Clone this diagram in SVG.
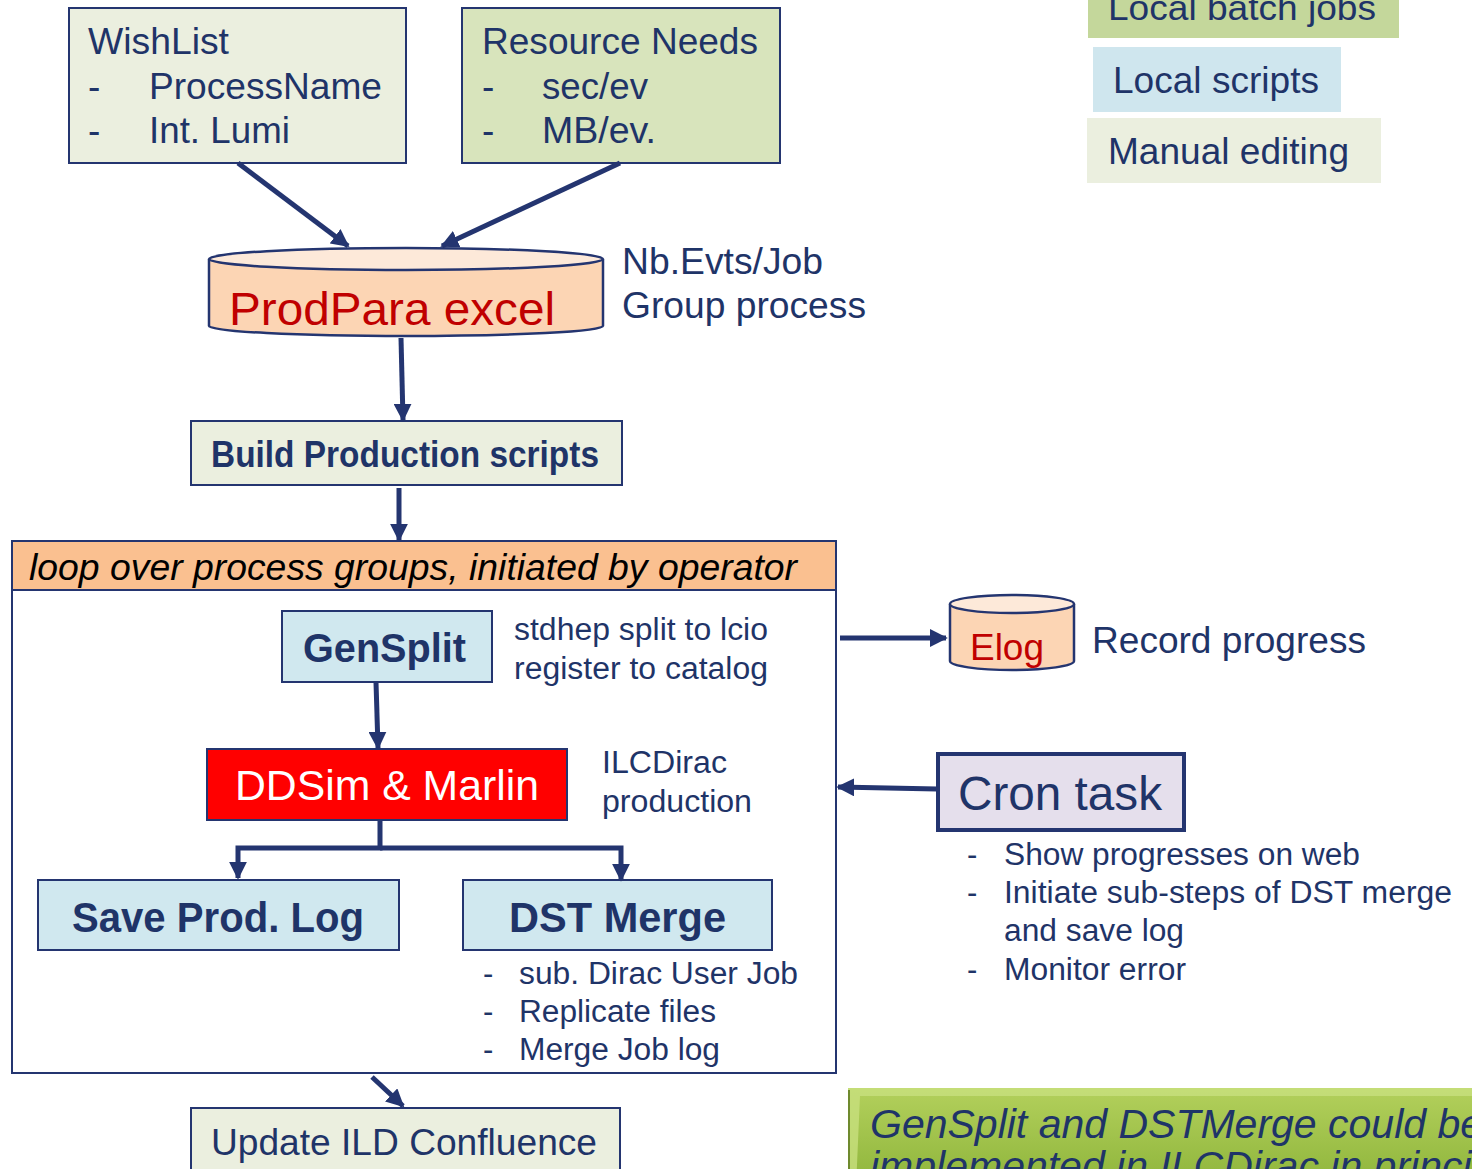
<svg xmlns="http://www.w3.org/2000/svg" width="1472" height="1169" viewBox="0 0 1472 1169">
<style>
.t{font-family:"Liberation Sans",Arial,sans-serif;fill:#1f3468}
.box{stroke:#243570;stroke-width:2}
.conn{stroke:#243570;stroke-width:5;fill:none}
text{font-family:"Liberation Sans",Arial,sans-serif}
</style>
<defs>
<marker id="ah" viewBox="0 0 10 10" refX="9" refY="5" markerWidth="18" markerHeight="18" markerUnits="userSpaceOnUse" orient="auto">
<path d="M0,0 L10,5 L0,10 z" fill="#243570"/>
</marker>
<linearGradient id="grn" x1="0" y1="0" x2="0" y2="1">
<stop offset="0" stop-color="#b3d05c"/>
<stop offset="1" stop-color="#8db43a"/>
</linearGradient>
</defs>
<rect width="1472" height="1169" fill="#ffffff"/>

<g id="legend-batch"><rect x="1088" y="-2" width="311" height="40" fill="#c4d79b"/><text class="t" x="1108" y="20" font-size="35" textLength="268" lengthAdjust="spacingAndGlyphs">Local batch jobs</text></g>
<g id="legend-scripts"><rect x="1093" y="47" width="248" height="65" fill="#cfe6ee"/><text class="t" x="1113" y="93" font-size="36" textLength="206" lengthAdjust="spacingAndGlyphs">Local scripts</text></g>
<g id="legend-manual"><rect x="1087" y="118" width="294" height="65" fill="#ebefdf"/><text class="t" x="1108" y="164" font-size="36" textLength="241" lengthAdjust="spacingAndGlyphs">Manual editing</text></g>

<g id="wishlist">
<rect class="box" x="69" y="8" width="337" height="155" fill="#ebefdf"/>
<text class="t" x="88" y="54" font-size="37" textLength="141" lengthAdjust="spacingAndGlyphs">WishList</text>
<text class="t" x="88" y="99" font-size="37">-</text><text class="t" x="149" y="99" font-size="37" textLength="233" lengthAdjust="spacingAndGlyphs">ProcessName</text>
<text class="t" x="88" y="143" font-size="37">-</text><text class="t" x="149" y="143" font-size="37" textLength="141" lengthAdjust="spacingAndGlyphs">Int. Lumi</text>
</g>
<g id="resource">
<rect class="box" x="462" y="8" width="318" height="155" fill="#d8e4bc"/>
<text class="t" x="482" y="54" font-size="37" textLength="276" lengthAdjust="spacingAndGlyphs">Resource Needs</text>
<text class="t" x="482" y="99" font-size="37">-</text><text class="t" x="542" y="99" font-size="37" textLength="106" lengthAdjust="spacingAndGlyphs">sec/ev</text>
<text class="t" x="482" y="143" font-size="37">-</text><text class="t" x="542" y="143" font-size="37" textLength="114" lengthAdjust="spacingAndGlyphs">MB/ev.</text>
</g>

<g id="prodpara">
<path d="M209,259 V326 A197,10 0 0 0 603,326 V259" fill="#fcd5b4" stroke="#243570" stroke-width="2.5"/>
<ellipse cx="406" cy="259" rx="197" ry="11" fill="#fde9d9" stroke="#243570" stroke-width="2.5"/>
<text x="229" y="325" font-size="47" fill="#c00000" textLength="326" lengthAdjust="spacingAndGlyphs">ProdPara excel</text>
<text class="t" x="622" y="274" font-size="36" textLength="201" lengthAdjust="spacingAndGlyphs">Nb.Evts/Job</text>
<text class="t" x="622" y="318" font-size="36" textLength="244" lengthAdjust="spacingAndGlyphs">Group process</text>
</g>

<g id="build">
<rect class="box" x="191" y="421" width="431" height="64" fill="#ebefdf"/>
<text class="t" x="211" y="467" font-size="36" font-weight="bold" textLength="388" lengthAdjust="spacingAndGlyphs">Build Production scripts</text>
</g>

<g id="loop">
<rect class="box" x="12" y="590" width="824" height="483" fill="#ffffff"/>
<rect class="box" x="12" y="541" width="824" height="49" fill="#fac090"/>
<text x="29" y="580" font-size="37" font-style="italic" fill="#000000" textLength="768" lengthAdjust="spacingAndGlyphs">loop over process groups, initiated by operator</text>
</g>

<g id="gensplit">
<rect class="box" x="282" y="611" width="210" height="71" fill="#d0e8ef"/>
<text class="t" x="303" y="662" font-size="41" font-weight="bold" textLength="163" lengthAdjust="spacingAndGlyphs">GenSplit</text>
<text class="t" x="514" y="640" font-size="31" textLength="254" lengthAdjust="spacingAndGlyphs">stdhep split to lcio</text>
<text class="t" x="514" y="679" font-size="31" textLength="254" lengthAdjust="spacingAndGlyphs">register to catalog</text>
</g>

<g id="ddsim">
<rect class="box" x="207" y="749" width="360" height="71" fill="#ff0000"/>
<text x="235" y="800" font-size="42" fill="#ffffff" textLength="304" lengthAdjust="spacingAndGlyphs">DDSim &amp; Marlin</text>
<text class="t" x="602" y="773" font-size="31" textLength="125" lengthAdjust="spacingAndGlyphs">ILCDirac</text>
<text class="t" x="602" y="812" font-size="31" textLength="150" lengthAdjust="spacingAndGlyphs">production</text>
</g>

<g id="saveprod">
<rect class="box" x="38" y="880" width="361" height="70" fill="#d0e8ef"/>
<text class="t" x="72" y="932" font-size="42" font-weight="bold" textLength="292" lengthAdjust="spacingAndGlyphs">Save Prod. Log</text>
</g>

<g id="dstmerge">
<rect class="box" x="463" y="880" width="309" height="70" fill="#d0e8ef"/>
<text class="t" x="509" y="932" font-size="42" font-weight="bold" textLength="217" lengthAdjust="spacingAndGlyphs">DST Merge</text>
<text class="t" x="483" y="984" font-size="31">-</text><text class="t" x="519" y="984" font-size="31" textLength="279" lengthAdjust="spacingAndGlyphs">sub. Dirac User Job</text>
<text class="t" x="483" y="1022" font-size="31">-</text><text class="t" x="519" y="1022" font-size="31" textLength="197" lengthAdjust="spacingAndGlyphs">Replicate files</text>
<text class="t" x="483" y="1060" font-size="31">-</text><text class="t" x="519" y="1060" font-size="31" textLength="201" lengthAdjust="spacingAndGlyphs">Merge Job log</text>
</g>

<g id="elog">
<path d="M950,604 V661 A62,9 0 0 0 1074,661 V604" fill="#fcd5b4" stroke="#243570" stroke-width="2.5"/>
<ellipse cx="1012" cy="604" rx="62" ry="9" fill="#fde9d9" stroke="#243570" stroke-width="2.5"/>
<text x="970" y="660" font-size="37" fill="#c00000" textLength="74" lengthAdjust="spacingAndGlyphs">Elog</text>
<text class="t" x="1092" y="653" font-size="37" textLength="274" lengthAdjust="spacingAndGlyphs">Record progress</text>
</g>

<g id="cron">
<rect x="938" y="754" width="246" height="76" fill="#e5dfec" stroke="#243570" stroke-width="4"/>
<text class="t" x="958" y="810" font-size="48" textLength="204" lengthAdjust="spacingAndGlyphs">Cron task</text>
<text class="t" x="967" y="865" font-size="31">-</text><text class="t" x="1004" y="865" font-size="31" textLength="356" lengthAdjust="spacingAndGlyphs">Show progresses on web</text>
<text class="t" x="967" y="903" font-size="31">-</text><text class="t" x="1004" y="903" font-size="31" textLength="448" lengthAdjust="spacingAndGlyphs">Initiate sub-steps of DST merge</text>
<text class="t" x="1004" y="941" font-size="31" textLength="180" lengthAdjust="spacingAndGlyphs">and save log</text>
<text class="t" x="967" y="980" font-size="31">-</text><text class="t" x="1004" y="980" font-size="31" textLength="182" lengthAdjust="spacingAndGlyphs">Monitor error</text>
</g>

<g id="update">
<rect class="box" x="191" y="1108" width="429" height="70" fill="#ebefdf"/>
<text class="t" x="211" y="1155" font-size="37" textLength="386" lengthAdjust="spacingAndGlyphs">Update ILD Confluence</text>
</g>

<g id="note">
<rect x="848" y="1088" width="640" height="100" fill="url(#grn)"/>
<polygon points="848,1088 1488,1088 1488,1096 860,1096 856,1188 848,1188" fill="#c8e07e" opacity="0.8"/>
<line x1="849" y1="1090" x2="849" y2="1169" stroke="#6f8a2e" stroke-width="2"/>
<text x="870" y="1138" font-size="41" font-style="italic" fill="#1f3468">GenSplit and DSTMerge could be</text>
<text x="870" y="1180" font-size="41" font-style="italic" fill="#1f3468">implemented in ILCDirac in principle</text>
</g>

<g id="connectors">
<line class="conn" x1="238" y1="163" x2="348" y2="246" marker-end="url(#ah)"/>
<line class="conn" x1="620" y1="163" x2="442" y2="246" marker-end="url(#ah)"/>
<line class="conn" x1="401" y1="338" x2="403" y2="420" marker-end="url(#ah)"/>
<line class="conn" x1="399" y1="488" x2="399" y2="540" marker-end="url(#ah)"/>
<line class="conn" x1="376" y1="682" x2="378" y2="748" marker-end="url(#ah)"/>
<path class="conn" d="M380,820 V848 H238 V878" marker-end="url(#ah)"/>
<path class="conn" d="M380,848 H621 V880" marker-end="url(#ah)"/>
<line class="conn" x1="840" y1="638" x2="946" y2="638" marker-end="url(#ah)"/>
<line class="conn" x1="937" y1="789" x2="838" y2="787" marker-end="url(#ah)"/>
<line class="conn" x1="372" y1="1077" x2="403" y2="1106" marker-end="url(#ah)"/>
</g>
</svg>
